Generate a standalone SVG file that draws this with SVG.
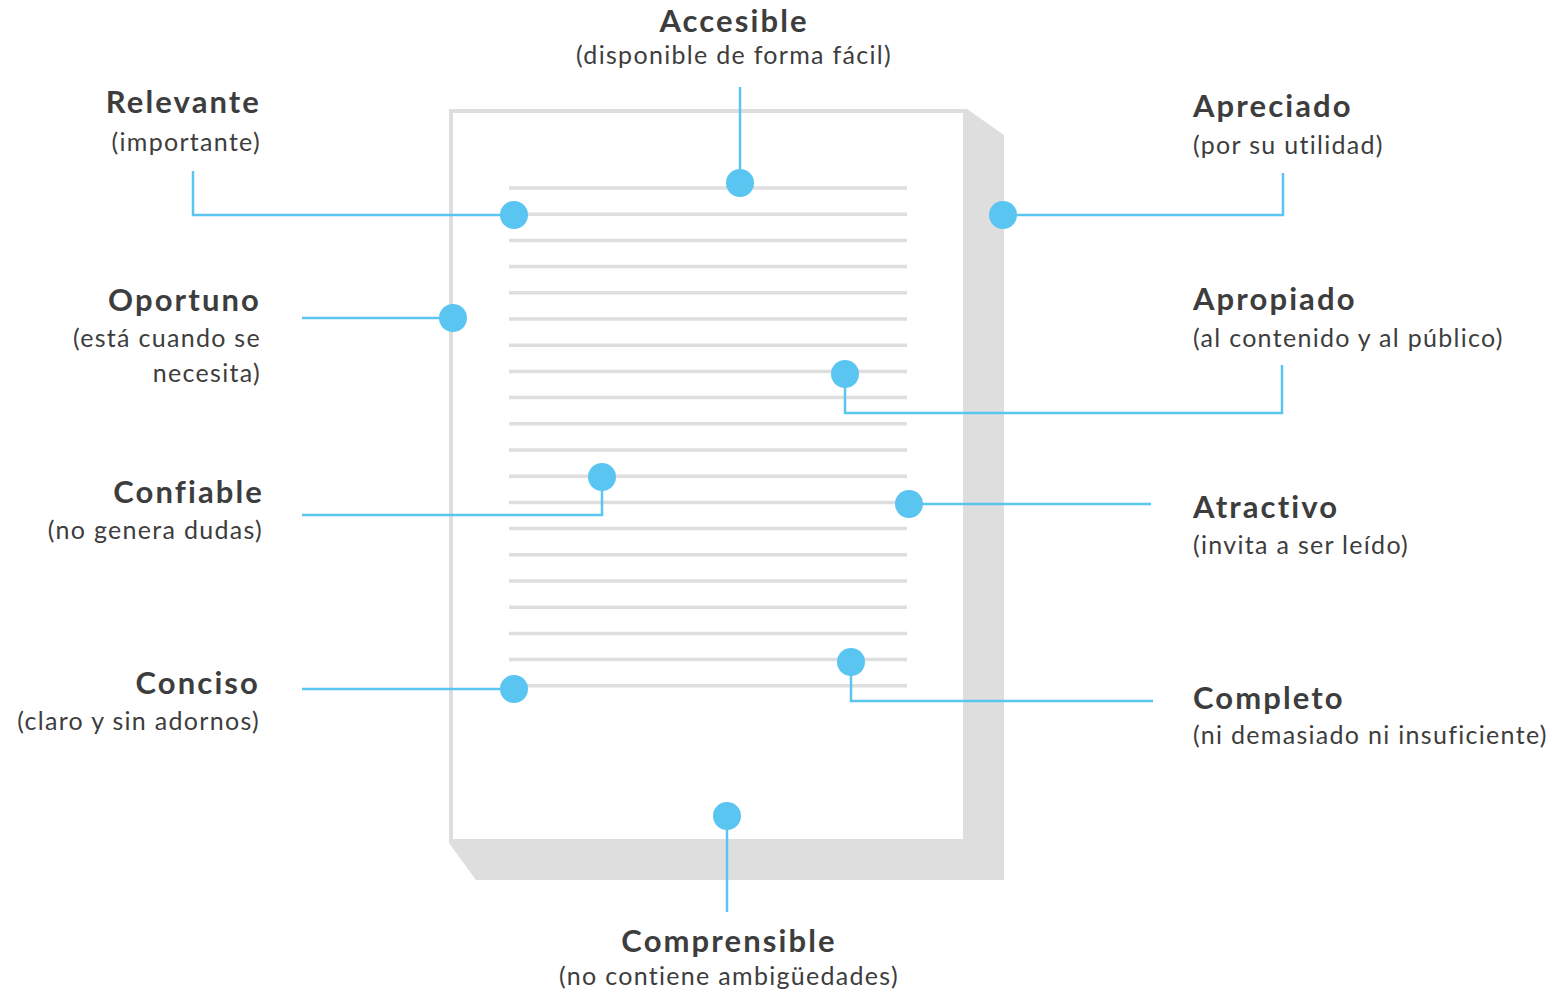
<svg xmlns="http://www.w3.org/2000/svg" width="1564" height="992" viewBox="0 0 1564 992">
  <style>
    .title { font-family: Lato, "Open Sans", "Liberation Sans", sans-serif; font-weight: 700; font-size: 31px; letter-spacing: 2.1px; fill: #3d3d3d; }
    .sub { font-family: Lato, "Open Sans", "Liberation Sans", sans-serif; font-weight: 400; font-size: 25px; letter-spacing: 1.3px; fill: #3d3d3d; }
    .r { text-anchor: end; }
    .m { text-anchor: middle; }
    .rule { stroke: #dedede; stroke-width: 3.5; }
    .wire { fill: none; stroke: #5bc5f2; stroke-width: 2.5; }
    .dot { fill: #5bc5f2; }
  </style>
  <rect width="1564" height="992" fill="#ffffff"/>

  <!-- page with folded shadow -->
  <g id="page">
    <polygon points="449,109 967,109 1004,135 1004,880 476,880 449,843" fill="#dedede"/>
    <rect x="453" y="113" width="510" height="726" fill="#ffffff"/>
    <g id="text-lines" class="rule">
      <line x1="509" y1="188" x2="907" y2="188"/>
      <line x1="509" y1="214.2" x2="907" y2="214.2"/>
      <line x1="509" y1="240.4" x2="907" y2="240.4"/>
      <line x1="509" y1="266.6" x2="907" y2="266.6"/>
      <line x1="509" y1="292.8" x2="907" y2="292.8"/>
      <line x1="509" y1="319" x2="907" y2="319"/>
      <line x1="509" y1="345.2" x2="907" y2="345.2"/>
      <line x1="509" y1="371.4" x2="907" y2="371.4"/>
      <line x1="509" y1="397.6" x2="907" y2="397.6"/>
      <line x1="509" y1="423.8" x2="907" y2="423.8"/>
      <line x1="509" y1="450" x2="907" y2="450"/>
      <line x1="509" y1="476.2" x2="907" y2="476.2"/>
      <line x1="509" y1="502.4" x2="907" y2="502.4"/>
      <line x1="509" y1="528.6" x2="907" y2="528.6"/>
      <line x1="509" y1="554.8" x2="907" y2="554.8"/>
      <line x1="509" y1="581" x2="907" y2="581"/>
      <line x1="509" y1="607.2" x2="907" y2="607.2"/>
      <line x1="509" y1="633.4" x2="907" y2="633.4"/>
      <line x1="509" y1="659.6" x2="907" y2="659.6"/>
      <line x1="509" y1="685.8" x2="907" y2="685.8"/>
    </g>
  </g>

  <!-- connectors -->
  <g id="connectors" class="wire">
    <polyline points="740,87 740,183"/>
    <polyline points="193,171 193,215 514,215"/>
    <polyline points="1003,215 1283,215 1283,173"/>
    <polyline points="302,318 453,318"/>
    <polyline points="845,374 845,413 1282,413 1282,365"/>
    <polyline points="602,477 602,515 302,515"/>
    <polyline points="909,504 1151,504"/>
    <polyline points="851,662 851,701 1153,701"/>
    <polyline points="302,689 514,689"/>
    <polyline points="727,816 727,912"/>
  </g>

  <!-- labelled points -->
  <g id="accesible">
    <circle class="dot" cx="740" cy="183" r="14"/>
    <text class="title m" x="734" y="32">Accesible</text>
    <text class="sub m" x="734" y="64">(disponible de forma fácil)</text>
  </g>
  <g id="relevante">
    <circle class="dot" cx="514" cy="215" r="14"/>
    <text class="title r" x="261" y="113">Relevante</text>
    <text class="sub r" x="261" y="151">(importante)</text>
  </g>
  <g id="apreciado">
    <circle class="dot" cx="1003" cy="215" r="14"/>
    <text class="title" x="1193" y="117">Apreciado</text>
    <text class="sub" x="1193" y="154">(por su utilidad)</text>
  </g>
  <g id="oportuno">
    <circle class="dot" cx="453" cy="318" r="14"/>
    <text class="title r" x="261" y="311">Oportuno</text>
    <text class="sub r" x="261" y="347">(está cuando se</text>
    <text class="sub r" x="261" y="382">necesita)</text>
  </g>
  <g id="apropiado">
    <circle class="dot" cx="845" cy="374" r="14"/>
    <text class="title" x="1193" y="310">Apropiado</text>
    <text class="sub" x="1193" y="347">(al contenido y al público)</text>
  </g>
  <g id="confiable">
    <circle class="dot" cx="602" cy="477" r="14"/>
    <text class="title r" x="264" y="503">Confiable</text>
    <text class="sub r" x="263" y="539">(no genera dudas)</text>
  </g>
  <g id="atractivo">
    <circle class="dot" cx="909" cy="504" r="14"/>
    <text class="title" x="1193" y="518">Atractivo</text>
    <text class="sub" x="1193" y="554">(invita a ser leído)</text>
  </g>
  <g id="conciso">
    <circle class="dot" cx="514" cy="689" r="14"/>
    <text class="title r" x="260" y="694">Conciso</text>
    <text class="sub r" x="260" y="730">(claro y sin adornos)</text>
  </g>
  <g id="completo">
    <circle class="dot" cx="851" cy="662" r="14"/>
    <text class="title" x="1193" y="709">Completo</text>
    <text class="sub" x="1193" y="744">(ni demasiado ni insuficiente)</text>
  </g>
  <g id="comprensible">
    <circle class="dot" cx="727" cy="816" r="14"/>
    <text class="title m" x="729" y="952">Comprensible</text>
    <text class="sub m" x="729" y="985">(no contiene ambigüedades)</text>
  </g>
</svg>
